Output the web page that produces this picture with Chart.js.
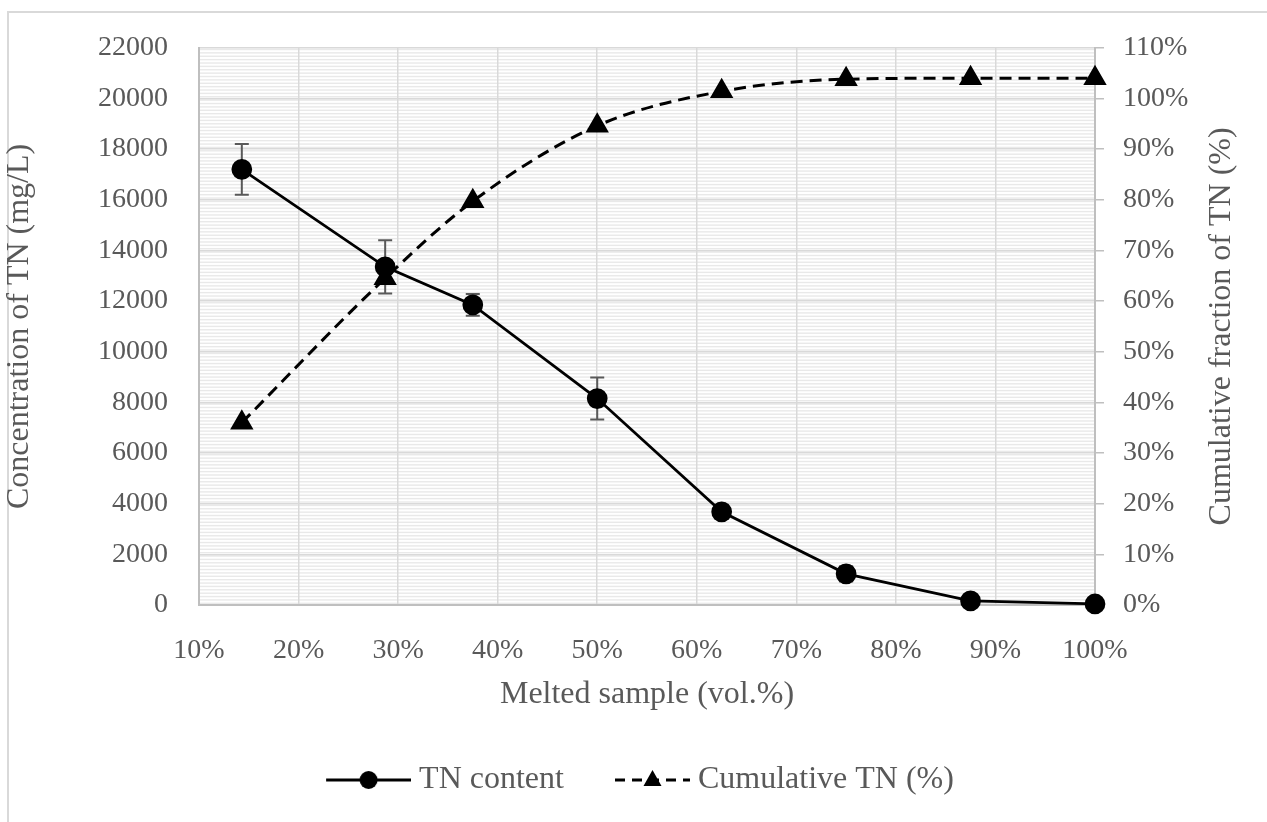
<!DOCTYPE html>
<html>
<head>
<meta charset="utf-8">
<script src="https://cdn.jsdelivr.net/npm/chart.js@4.4.1/dist/chart.umd.min.js"></script>
<style>
  html, body { margin: 0; padding: 0; background: #fff; }
</style>
</head>
<body>
<canvas id="tnChart" width="1267" height="822"></canvas>
<script>
// melted sample fraction (vol.%)
var melted = [14.3, 28.7, 37.5, 50, 62.5, 75, 87.5, 100];
// TN concentration (mg/L) with standard deviation
var tnContent = [17200, 13350, 11850, 8150, 3680, 1230, 160, 40];
var tnError = [1000, 1050, 430, 830, 280, 300, 60, 20];
// cumulative fraction of TN (%)
var cumulativeTN = [36.0, 64.5, 79.7, 94.6, 101.4, 103.8, 104.0, 104.0];

// axis ticks
var xTicks = [10, 20, 30, 40, 50, 60, 70, 80, 90, 100];
var leftTicks = [0, 2000, 4000, 6000, 8000, 10000, 12000, 14000, 16000, 18000, 20000, 22000];
var rightTicks = [0, 10, 20, 30, 40, 50, 60, 70, 80, 90, 100, 110];

var textGrey = '#595959';
var gridGrey = '#d9d9d9';
var axisGrey = '#bfbfbf';
var serif = '"Liberation Serif", serif';
var tickFont = { family: serif, size: 28 };
var titleFont = { family: serif, size: 32 };

Chart.defaults.font.family = serif;
Chart.defaults.color = textGrey;

function toXY(xs, ys) {
  return xs.map(function (x, i) { return { x: x, y: ys[i] }; });
}

function setTicks(list) {
  return function (scale) {
    scale.ticks = list.map(function (v) { return { value: v }; });
  };
}

// legend symbol: a short line with the marker in the middle, right-aligned in the image
function legendSymbol(dashed, marker, len) {
  var c = document.createElement('canvas');
  c.width = 106; c.height = 28;
  var g = c.getContext('2d');
  var x1 = 106, x0 = x1 - len, cy = 14, cx = (x0 + x1) / 2;
  g.strokeStyle = '#000';
  g.lineWidth = 3;
  if (dashed) g.setLineDash([10, 7]);
  g.beginPath(); g.moveTo(x0, cy); g.lineTo(x1, cy); g.stroke();
  g.setLineDash([]);
  g.fillStyle = '#000';
  g.beginPath();
  if (marker === 'circle') {
    g.arc(cx, cy, 9, 0, Math.PI * 2);
  } else {
    g.moveTo(cx, cy - 10); g.lineTo(cx + 9, cy + 6); g.lineTo(cx - 9, cy + 6); g.closePath();
  }
  g.fill();
  return c;
}

var symbols = [legendSymbol(false, 'circle', 85), legendSymbol(true, 'triangle', 75)];

// outer frame, striped plot background, error bars and the right axis title
var decor = {
  id: 'decor',
  beforeDraw: function (chart) {
    var ctx = chart.ctx, a = chart.chartArea;
    ctx.save();
    ctx.fillStyle = '#fff';
    ctx.fillRect(0, 0, chart.width, chart.height);
    ctx.strokeStyle = gridGrey;
    ctx.lineWidth = 2;
    ctx.strokeRect(8, 12, chart.width + 20, chart.height + 20);
    ctx.fillStyle = '#e9e9e9';
    var step = (a.bottom - a.top) / 165;
    for (var y = a.top + 1; y < a.bottom; y += step) {
      ctx.fillRect(a.left, y, a.right - a.left, 1.4);
    }
    ctx.restore();
  },
  beforeDatasetsDraw: function (chart) {
    var ctx = chart.ctx, xs = chart.scales.x, ys = chart.scales.y;
    ctx.save();
    ctx.strokeStyle = '#595959';
    ctx.lineWidth = 2;
    for (var i = 0; i < melted.length; i++) {
      var px = xs.getPixelForValue(melted[i]);
      var top = ys.getPixelForValue(tnContent[i] + tnError[i]);
      var bot = ys.getPixelForValue(tnContent[i] - tnError[i]);
      ctx.beginPath();
      ctx.moveTo(px, top); ctx.lineTo(px, bot);
      ctx.moveTo(px - 7, top); ctx.lineTo(px + 7, top);
      ctx.moveTo(px - 7, bot); ctx.lineTo(px + 7, bot);
      ctx.stroke();
    }
    ctx.restore();
  },
  afterDraw: function (chart) {
    var ctx = chart.ctx, a = chart.chartArea;
    ctx.save();
    ctx.translate(1222, (a.top + a.bottom) / 2);
    ctx.rotate(-Math.PI / 2);
    ctx.font = titleFont.size + 'px ' + serif;
    ctx.fillStyle = textGrey;
    ctx.textAlign = 'center';
    ctx.textBaseline = 'middle';
    ctx.fillText('Cumulative fraction of TN (%)', 0, 0);
    ctx.restore();
  }
};

new Chart(document.getElementById('tnChart'), {
  type: 'line',
  data: {
    datasets: [{
      label: 'TN content',
      data: toXY(melted, tnContent),
      yAxisID: 'y',
      borderColor: '#000',
      backgroundColor: '#000',
      borderWidth: 2.75,
      pointStyle: 'circle',
      pointRadius: 9,
      tension: 0,
      clip: false
    }, {
      label: 'Cumulative TN (%)',
      data: toXY(melted, cumulativeTN),
      yAxisID: 'y1',
      borderColor: '#000',
      backgroundColor: '#000',
      borderWidth: 3,
      borderDash: [12, 7],
      cubicInterpolationMode: 'monotone',
      pointStyle: 'triangle',
      pointRadius: 10.5,
      clip: false
    }]
  },
  options: {
    responsive: false,
    devicePixelRatio: 1,
    animation: false,
    layout: { padding: { top: 46, bottom: 16, left: 0, right: 0 } },
    plugins: {
      tooltip: { enabled: false },
      legend: {
        position: 'bottom',
        labels: {
          usePointStyle: true,
          pointStyleWidth: 90,
          padding: 28,
          font: titleFont,
          color: textGrey,
          generateLabels: function (chart) {
            return chart.data.datasets.map(function (ds, i) {
              return { text: ds.label, pointStyle: symbols[i], datasetIndex: i, fontColor: textGrey, lineWidth: 0 };
            });
          }
        }
      }
    },
    scales: {
      x: {
        type: 'linear',
        position: 'bottom',
        min: 10, max: 100,
        afterBuildTicks: setTicks(xTicks),
        afterFit: function (s) { s.height = 131; },
        ticks: { padding: 29, font: tickFont, callback: function (v) { return v + '%'; } },
        grid: { color: gridGrey, lineWidth: 1.5, drawTicks: false },
        border: { color: axisGrey, width: 2 },
        title: { display: true, text: 'Melted sample (vol.%)', font: titleFont, padding: { top: 0, bottom: 22 } }
      },
      y: {
        position: 'left',
        min: 0, max: 22000,
        afterBuildTicks: setTicks(leftTicks),
        afterFit: function (s) { s.width = 199; },
        ticks: { padding: 31, font: tickFont, callback: function (v) { return String(v); } },
        grid: { color: gridGrey, lineWidth: 1.5, drawTicks: false },
        border: { color: axisGrey, width: 2 },
        title: { display: true, text: 'Concentration of TN (mg/L)', font: titleFont, padding: { top: 0, bottom: 9 } }
      },
      y1: {
        position: 'right',
        min: 0, max: 110,
        afterBuildTicks: setTicks(rightTicks),
        afterFit: function (s) { s.width = 172; },
        ticks: { padding: 19, font: tickFont, callback: function (v) { return v + '%'; } },
        grid: { drawOnChartArea: false, color: axisGrey, lineWidth: 1.5, tickLength: 9 },
        border: { color: axisGrey, width: 2 }
      }
    }
  },
  plugins: [decor]
});
</script>
</body>
</html>
